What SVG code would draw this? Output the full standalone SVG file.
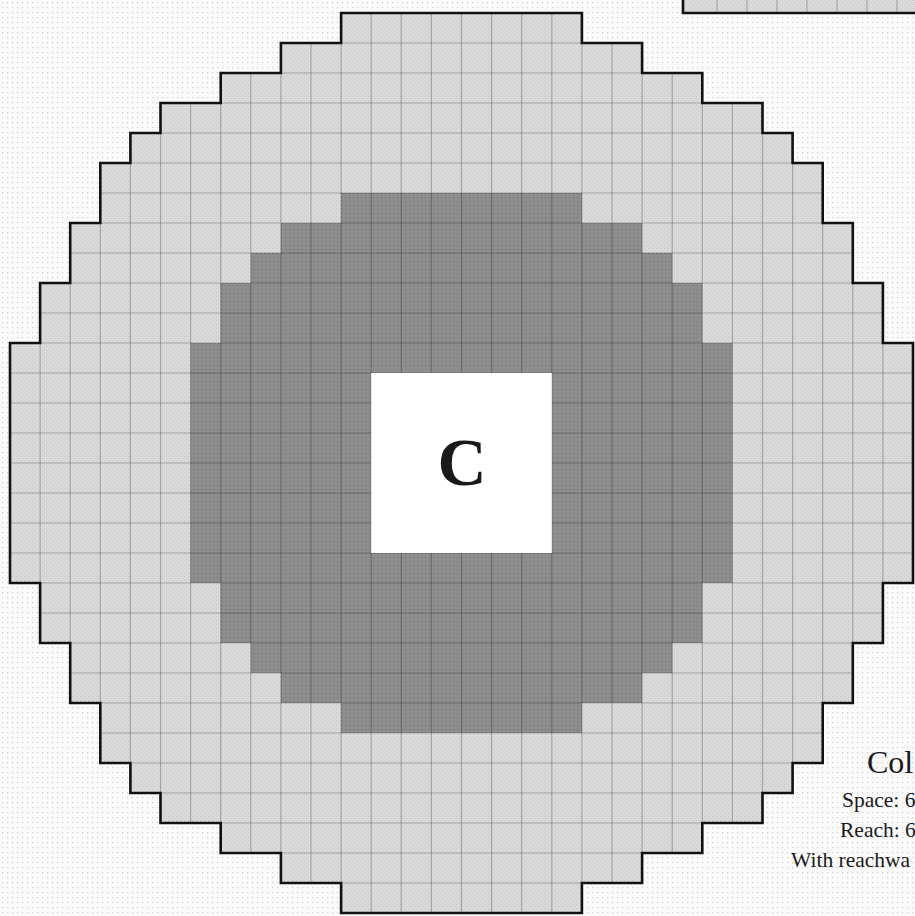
<svg xmlns="http://www.w3.org/2000/svg" width="915" height="916" viewBox="0 0 915 916">
  <style>
    .outline { fill: none; stroke: #111; stroke-width: 2.6; stroke-linejoin: miter; }
    .grid line { stroke: #000; stroke-opacity: 0.24; stroke-width: 1.2; }
    .label { font-family: "Liberation Serif", "Times New Roman", serif; fill: #1a1a1a; }
  </style>
  <defs>
    <pattern id="bgDots" width="5" height="5" patternUnits="userSpaceOnUse">
      <rect width="5" height="5" fill="#fafafa"/>
      <rect x="2" y="2" width="1.2" height="1.2" fill="#cfcfcf"/>
    </pattern>
    <pattern id="lightTex" width="4" height="4" patternUnits="userSpaceOnUse">
      <rect width="4" height="4" fill="#dadada"/>
      <rect x="0" y="0" width="1" height="1" fill="#c4c4c4"/>
      <rect x="2" y="2" width="1" height="1" fill="#c4c4c4"/>
    </pattern>
    <pattern id="darkTex" width="4" height="4" patternUnits="userSpaceOnUse">
      <rect width="4" height="4" fill="#8e8e8e"/>
      <rect x="1" y="1" width="1.2" height="1.2" fill="#777777"/>
    </pattern>
    <clipPath id="outerClip" clipPathUnits="userSpaceOnUse">
      <path transform="translate(10,13) scale(30.1,30)" d="M11,0 H19 V1 H21 V2 H23 V3 H25 V4 H26 V5 H27 V7 H28 V9 H29 V11 H30 V19 H29 V21 H28 V23 H27 V25 H26 V26 H25 V27 H23 V28 H21 V29 H19 V30 H11 V29 H9 V28 H7 V27 H5 V26 H4 V25 H3 V23 H2 V21 H1 V19 H0 V11 H1 V9 H2 V7 H3 V5 H4 V4 H5 V3 H7 V2 H9 V1 H11 Z"/>
    </clipPath>
    <clipPath id="innerClip" clipPathUnits="userSpaceOnUse">
      <path transform="translate(10,13) scale(30.1,30)" d="M11,6 H19 V7 H21 V8 H22 V9 H23 V11 H24 V19 H23 V21 H22 V22 H21 V23 H19 V24 H11 V23 H9 V22 H8 V21 H7 V19 H6 V11 H7 V9 H8 V8 H9 V7 H11 Z"/>
    </clipPath>
  </defs>

  <rect id="background" x="0" y="0" width="915" height="916" fill="url(#bgDots)"/>

  <!-- partial neighbouring shape at top right -->
  <g id="neighbour-shape">
    <rect x="683" y="-6" width="250" height="19" fill="url(#lightTex)"/>
    <g class="grid">
      <line x1="717" y1="0" x2="717" y2="13"/>
      <line x1="747" y1="0" x2="747" y2="13"/>
      <line x1="777" y1="0" x2="777" y2="13"/>
      <line x1="807" y1="0" x2="807" y2="13"/>
      <line x1="837" y1="0" x2="837" y2="13"/>
      <line x1="867" y1="0" x2="867" y2="13"/>
      <line x1="897" y1="0" x2="897" y2="13"/>
    </g>
    <path class="outline" d="M683,-4 V13 H925"/>
  </g>

  <g id="reach-area">
    <rect id="outer-area" x="0" y="0" width="915" height="916" fill="url(#lightTex)" clip-path="url(#outerClip)"/>
    <rect id="inner-area" x="0" y="0" width="915" height="916" fill="url(#darkTex)" clip-path="url(#innerClip)"/>
    <g class="grid" clip-path="url(#outerClip)">
      <line x1="40.1" y1="0" x2="40.1" y2="916"/>
      <line x1="70.2" y1="0" x2="70.2" y2="916"/>
      <line x1="100.3" y1="0" x2="100.3" y2="916"/>
      <line x1="130.4" y1="0" x2="130.4" y2="916"/>
      <line x1="160.5" y1="0" x2="160.5" y2="916"/>
      <line x1="190.6" y1="0" x2="190.6" y2="916"/>
      <line x1="220.7" y1="0" x2="220.7" y2="916"/>
      <line x1="250.8" y1="0" x2="250.8" y2="916"/>
      <line x1="280.9" y1="0" x2="280.9" y2="916"/>
      <line x1="311" y1="0" x2="311" y2="916"/>
      <line x1="341.1" y1="0" x2="341.1" y2="916"/>
      <line x1="371.2" y1="0" x2="371.2" y2="916"/>
      <line x1="401.3" y1="0" x2="401.3" y2="916"/>
      <line x1="431.4" y1="0" x2="431.4" y2="916"/>
      <line x1="461.5" y1="0" x2="461.5" y2="916"/>
      <line x1="491.6" y1="0" x2="491.6" y2="916"/>
      <line x1="521.7" y1="0" x2="521.7" y2="916"/>
      <line x1="551.8" y1="0" x2="551.8" y2="916"/>
      <line x1="581.9" y1="0" x2="581.9" y2="916"/>
      <line x1="612" y1="0" x2="612" y2="916"/>
      <line x1="642.1" y1="0" x2="642.1" y2="916"/>
      <line x1="672.2" y1="0" x2="672.2" y2="916"/>
      <line x1="702.3" y1="0" x2="702.3" y2="916"/>
      <line x1="732.4" y1="0" x2="732.4" y2="916"/>
      <line x1="762.5" y1="0" x2="762.5" y2="916"/>
      <line x1="792.6" y1="0" x2="792.6" y2="916"/>
      <line x1="822.7" y1="0" x2="822.7" y2="916"/>
      <line x1="852.8" y1="0" x2="852.8" y2="916"/>
      <line x1="882.9" y1="0" x2="882.9" y2="916"/>
      <line x1="0" y1="43" x2="915" y2="43"/>
      <line x1="0" y1="73" x2="915" y2="73"/>
      <line x1="0" y1="103" x2="915" y2="103"/>
      <line x1="0" y1="133" x2="915" y2="133"/>
      <line x1="0" y1="163" x2="915" y2="163"/>
      <line x1="0" y1="193" x2="915" y2="193"/>
      <line x1="0" y1="223" x2="915" y2="223"/>
      <line x1="0" y1="253" x2="915" y2="253"/>
      <line x1="0" y1="283" x2="915" y2="283"/>
      <line x1="0" y1="313" x2="915" y2="313"/>
      <line x1="0" y1="343" x2="915" y2="343"/>
      <line x1="0" y1="373" x2="915" y2="373"/>
      <line x1="0" y1="403" x2="915" y2="403"/>
      <line x1="0" y1="433" x2="915" y2="433"/>
      <line x1="0" y1="463" x2="915" y2="463"/>
      <line x1="0" y1="493" x2="915" y2="493"/>
      <line x1="0" y1="523" x2="915" y2="523"/>
      <line x1="0" y1="553" x2="915" y2="553"/>
      <line x1="0" y1="583" x2="915" y2="583"/>
      <line x1="0" y1="613" x2="915" y2="613"/>
      <line x1="0" y1="643" x2="915" y2="643"/>
      <line x1="0" y1="673" x2="915" y2="673"/>
      <line x1="0" y1="703" x2="915" y2="703"/>
      <line x1="0" y1="733" x2="915" y2="733"/>
      <line x1="0" y1="763" x2="915" y2="763"/>
      <line x1="0" y1="793" x2="915" y2="793"/>
      <line x1="0" y1="823" x2="915" y2="823"/>
      <line x1="0" y1="853" x2="915" y2="853"/>
      <line x1="0" y1="883" x2="915" y2="883"/>
    </g>
    <path id="outer-outline" class="outline" transform="translate(10,13) scale(30.1,30)" vector-effect="non-scaling-stroke" d="M11,0 H19 V1 H21 V2 H23 V3 H25 V4 H26 V5 H27 V7 H28 V9 H29 V11 H30 V19 H29 V21 H28 V23 H27 V25 H26 V26 H25 V27 H23 V28 H21 V29 H19 V30 H11 V29 H9 V28 H7 V27 H5 V26 H4 V25 H3 V23 H2 V21 H1 V19 H0 V11 H1 V9 H2 V7 H3 V5 H4 V4 H5 V3 H7 V2 H9 V1 H11 Z"/>
  </g>

  <g id="creature">
    <rect x="371.2" y="373" width="180.6" height="180" fill="#ffffff"/>
    <text class="label" x="462" y="485" font-size="68" font-weight="bold" text-anchor="middle">C</text>
  </g>

  <g id="caption">
    <text class="label" x="867" y="773" font-size="32">Col</text>
    <text class="label" x="842" y="807" font-size="21.5">Space: 6</text>
    <text class="label" x="840" y="837" font-size="21.5">Reach: 6</text>
    <text class="label" x="791" y="867" font-size="21.5">With reachwa</text>
  </g>
</svg>
